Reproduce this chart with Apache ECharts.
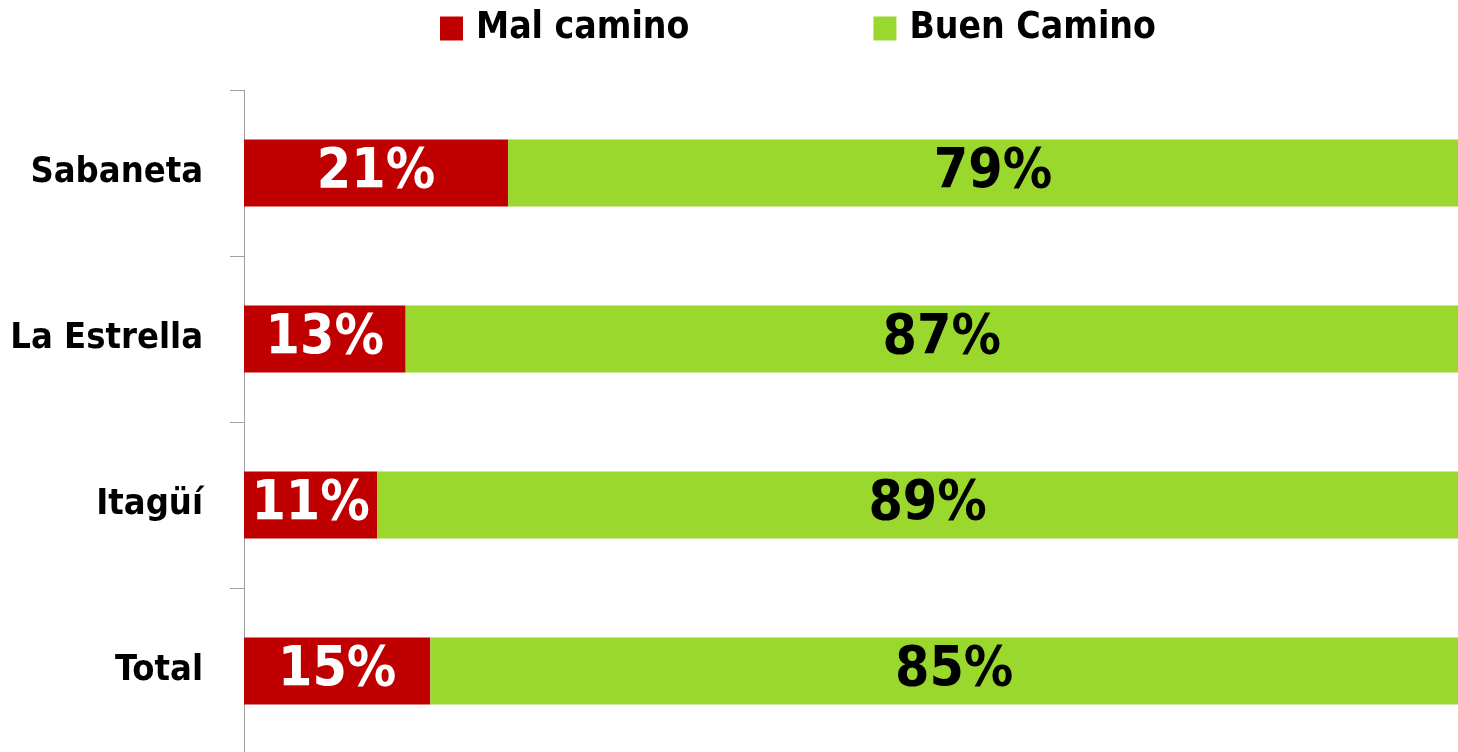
<!DOCTYPE html>
<html>
<head>
<meta charset="utf-8">
<script src="https://cdn.jsdelivr.net/npm/echarts@6/dist/echarts.min.js"></script>
<style>
	html, body { margin: 0; padding: 0; background: #fff; }
	#main { width: 1458px; height: 752px; }
</style>
</head>
<body>
<div id="main"></div>
<script>
// datos
var categories = ["Sabaneta", "La Estrella", "Itagüí", "Total"];
var malCamino = [21.4, 13.1, 10.8, 15.1];
var buenCamino = [78.6, 86.9, 89.2, 84.9];
var malLabels = ["21%", "13%", "11%", "15%"];
var buenLabels = ["79%", "87%", "89%", "85%"];

var fontFam = "'Liberation Sans Narrow', 'DejaVu Sans Condensed', 'Arial Narrow', sans-serif";
var myChart = echarts.init(document.querySelector("#main"));

var option = {
	animation: false,
	textStyle: { fontFamily: fontFam },
	legend: {
		top: 10,
		left: 440,
		padding: 0,
		itemWidth: 23,
		itemHeight: 24,
		itemGap: 184,
		icon: "rect",
		textStyle: { fontSize: 37, fontWeight: "bold", color: "#000", fontFamily: fontFam, padding: [0, 0, 0, 8] },
		data: ["Mal camino", "Buen Camino"]
	},
	grid: { left: 244, right: -20, top: 90, height: 664, outerBoundsMode: "none", containLabel: false },
	xAxis: {
		type: "value",
		min: 0,
		max: 100,
		show: false
	},
	yAxis: {
		type: "category",
		inverse: true,
		data: categories,
		axisLine: { show: true, lineStyle: { color: "#a0a0a0", width: 1 } },
		axisTick: { show: true, length: 14, lineStyle: { color: "#a0a0a0", width: 1 } },
		axisLabel: { margin: 41, fontSize: 36, fontWeight: "bold", color: "#000", fontFamily: fontFam }
	},
	series: []
};

option.series.push({
	name: "Mal camino",
	type: "bar",
	stack: "total",
	barWidth: 67,
	itemStyle: { color: "#C00000" },
	label: {
		show: true,
		position: "inside",
		color: "#fff",
		fontSize: 55,
		fontWeight: "bold",
		fontFamily: fontFam,
		formatter: function (p) { return malLabels[p.dataIndex]; }
	},
	data: malCamino
});
option.series.push({
	name: "Buen Camino",
	type: "bar",
	stack: "total",
	barWidth: 67,
	itemStyle: { color: "#9BD82E" },
	label: {
		show: true,
		position: "inside",
		color: "#000",
		fontSize: 55,
		fontWeight: "bold",
		fontFamily: fontFam,
		formatter: function (p) { return buenLabels[p.dataIndex]; }
	},
	data: buenCamino
});

myChart.setOption(option);
</script>
</body>
</html>
